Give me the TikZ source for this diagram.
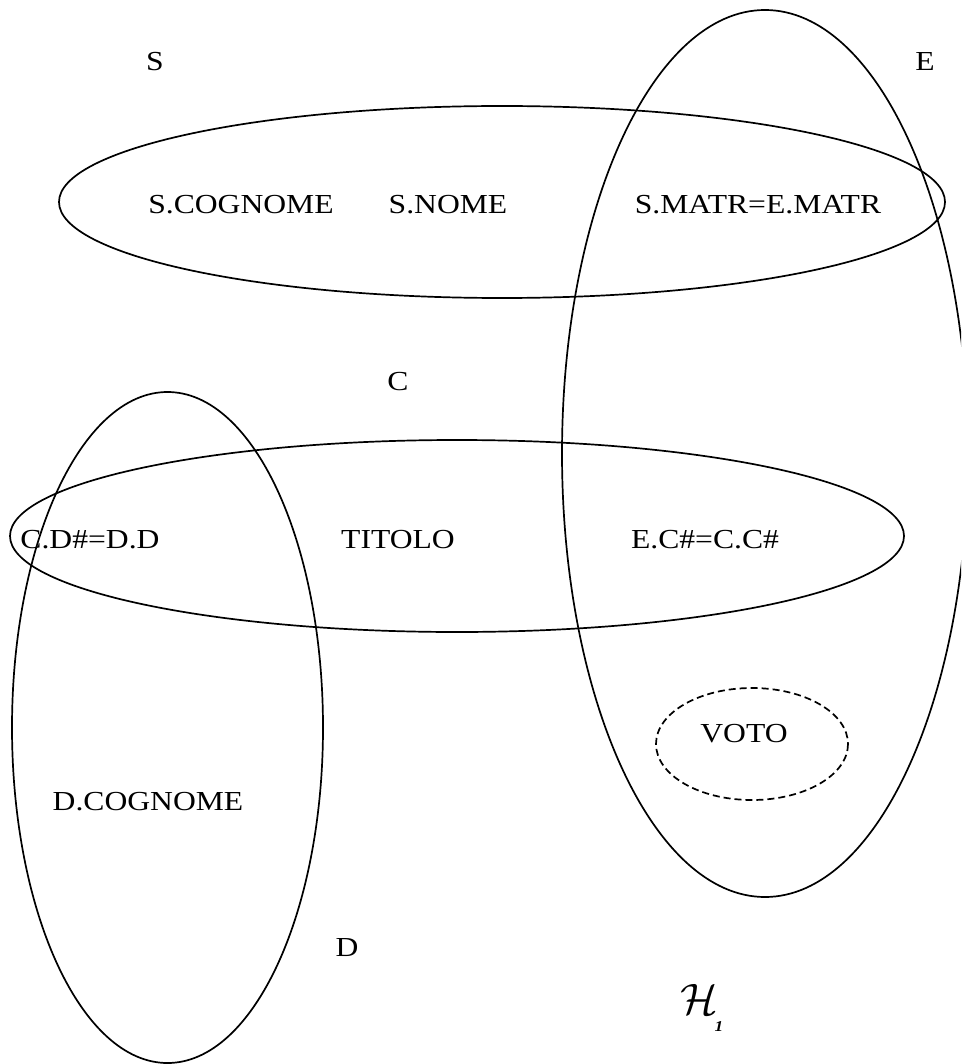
\documentclass[tikz,border=0pt]{standalone}
\usepackage{fontspec}
\setmainfont[FakeStretch=1.15]{Liberation Serif}
\begin{document}
\begin{tikzpicture}[x=1pt,y=-1pt,
  hedge/.style={draw=black,line width=1.7pt},
  dashedge/.style={draw=black,line width=1.7pt,dash pattern=on 7pt off 4pt},
  lbl/.style={inner sep=0pt,font=\fontsize{27.5}{32}\selectfont}]
\useasboundingbox (0,0) rectangle (961,1064);
\clip (0,0) rectangle (961,1064);
% hyperedges
\draw[hedge] (502,202) ellipse [x radius=443, y radius=96];
\draw[hedge] (765,453.5) ellipse [x radius=203, y radius=443.5];
\draw[hedge] (457,536) ellipse [x radius=447, y radius=96];
\draw[hedge] (167.5,727.5) ellipse [x radius=155.5, y radius=335.5];
\draw[dashedge] (752,744) ellipse [x radius=96, y radius=56];
% labels
\node[lbl] (S) at (155,62) {S};
\node[lbl] (E) at (925,62) {E};
\node[lbl] (scog) at (241,205) {S.COGNOME};
\node[lbl] (snome) at (448,205) {S.NOME};
\node[lbl] (smatr) at (758,205) {S.MATR=E.MATR};
\node[lbl] (C) at (398,382) {C};
\node[lbl] (cdd) at (90,540) {C.D\#=D.D};
\node[lbl] (tit) at (398,540) {TITOLO};
\node[lbl] (ecc) at (705,540) {E.C\#=C.C\#};
\node[lbl] (voto) at (744,734) {VOTO};
\node[lbl] (dcog) at (148,802) {D.COGNOME};
\node[lbl] (D) at (347,948) {D};
\node[inner sep=0pt] (H) at (699,999) {\scalebox{4.4}{$\mathcal{H}$}};
\node[inner sep=0pt,font=\fontsize{15}{18}\selectfont\itshape\bfseries] (H1) at (719,1027) {1};
\end{tikzpicture}
\end{document}
